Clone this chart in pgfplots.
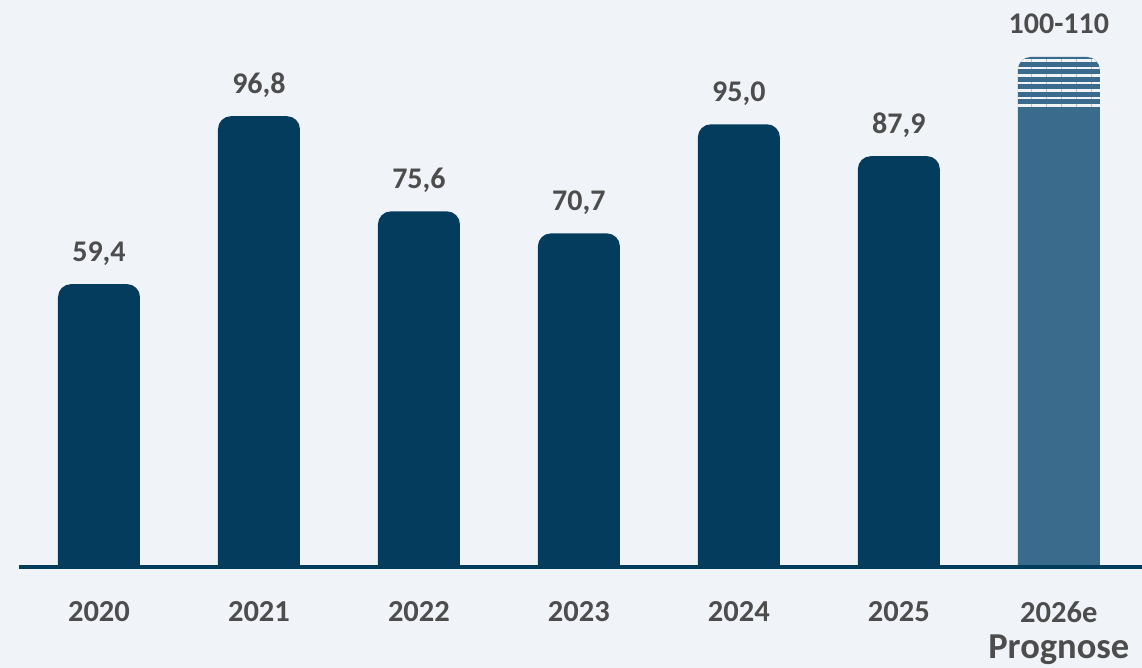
\documentclass[border=0pt]{standalone}
\usepackage{pgfplots}
\pgfplotsset{compat=1.18}
\usepackage{pgfplotstable}
\usepackage{fontspec}
\setmainfont{Carlito}
\usetikzlibrary{patterns.meta}

\definecolor{bg}{RGB}{240,243,247}
\definecolor{navy}{RGB}{4,60,94}
\definecolor{progblue}{RGB}{58,106,140}
\definecolor{txt}{RGB}{77,77,77}

% Umsatz je Jahr; Label mit Komma
\pgfplotstableread[col sep=comma]{
x,v,lab
0,59.4,{59,4}
1,96.8,{96,8}
2,75.6,{75,6}
3,70.7,{70,7}
4,95.0,{95,0}
5,87.9,{87,9}
}\ist

\pgfplotstableread[col sep=comma]{
x,v,lab
6,110,100-110
}\progtop

\pgfplotstableread[col sep=comma]{
x,v
6,98.3
}\progbase

\begin{document}
\begin{tikzpicture}
\fill[bg] (-19pt,-88pt) rectangle (1123pt,580pt);
\begin{axis}[
    scale only axis,
    width=1123pt, height=580pt,
    xmin=-0.5, xmax=6.52,
    ymin=-6.5, ymax=122.68,
    % Balken beginnen unterhalb der sichtbaren Grundlinie
    y coord trafo/.code={\pgfmathparse{#1+6.5}},
    y coord inv trafo/.code={\pgfmathparse{#1-6.5}},
    axis x line=bottom,
    axis y line=none,
    x axis line style={draw=none},
    xtick={0,...,6},
    xticklabels={2020,2021,2022,2023,2024,2025,{2026e\\[0pt]{\fontsize{36.5}{38}\selectfont Prognose}}},
    major tick length=0pt,
    xticklabel style={align=center, anchor=north, inner sep=0pt, yshift=-21pt,
        font=\fontsize{30.5}{36}\selectfont\bfseries, text=txt},
    ybar, bar width=82pt,
    bar shift=0pt,
    clip=true,
    nodes near coords,
    point meta=explicit symbolic,
    every node near coord/.append style={anchor=base, inner sep=0pt, yshift=23pt,
        font=\fontsize{30}{36}\selectfont\bfseries, text=txt},
]
\addplot[draw=none, fill=navy, rounded corners=13pt] table[x=x, y=v, meta=lab] {\ist};
\addplot[draw=none, preaction={fill=progblue}, rounded corners=13pt,
    pattern={Lines[angle=0, distance=7.5pt, line width=2.8pt]}, pattern color=bg]
    table[x=x, y=v, meta=lab] {\progtop};
\addplot[draw=none, fill=progblue, nodes near coords={}] table[x=x, y=v] {\progbase};
% Grundlinie
\fill[bg] (rel axis cs:0,0) rectangle (rel axis cs:1,0.0224);
\draw[navy, line width=4.5pt] (rel axis cs:0,0.0224) -- (rel axis cs:1,0.0224);
\end{axis}
\end{tikzpicture}
\end{document}
